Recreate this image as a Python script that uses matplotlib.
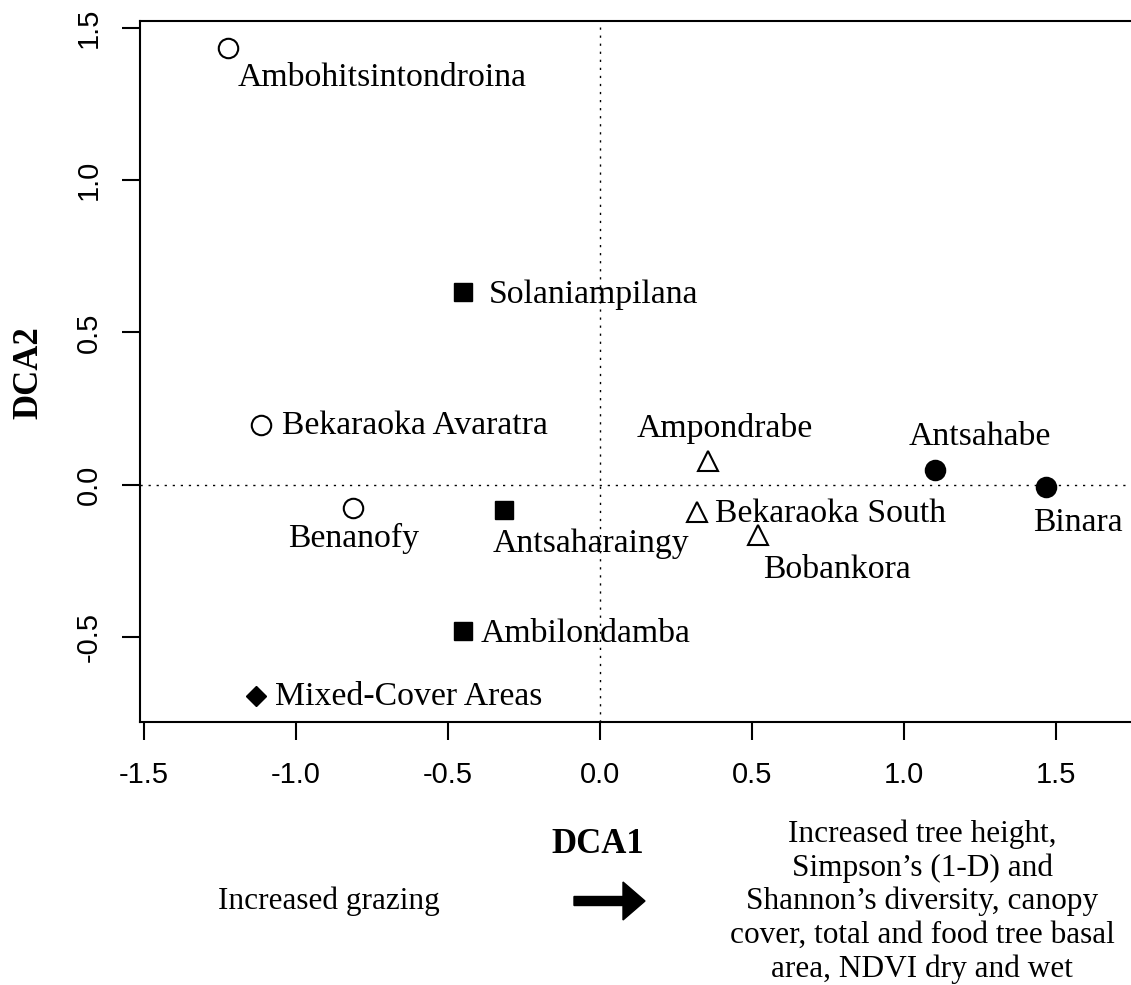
import matplotlib
matplotlib.use("Agg")
import matplotlib.pyplot as plt
from matplotlib.patches import FancyArrow

# DCA site scores
sites = ["Ambohitsintondroina", "Solaniampilana", "Bekaraoka Avaratra", "Benanofy",
         "Antsaharaingy", "Ambilondamba", "Mixed-Cover Areas", "Ampondrabe",
         "Bekaraoka South", "Bobankora", "Antsahabe", "Binara"]
dca1 = [-1.224, -0.451, -1.115, -0.813, -0.316, -0.450, -1.132, 0.355, 0.320, 0.521, 1.101, 1.468]
dca2 = [1.433, 0.632, 0.196, -0.076, -0.083, -0.481, -0.694, 0.076, -0.091, -0.166, 0.048, -0.009]
group = ["open", "square", "open", "open", "square", "square", "diamond",
         "triangle", "triangle", "triangle", "filled", "filled"]

xticks = [-1.5, -1.0, -0.5, 0.0, 0.5, 1.0, 1.5]
yticks = [-0.5, 0.0, 0.5, 1.0, 1.5]

right_note = ["Increased tree height,", "Simpson\u2019s (1-D) and",
              "Shannon\u2019s diversity, canopy", "cover, total and food tree basal",
              "area, NDVI dry and wet"]
left_note = "Increased grazing"

# marker look per group
styles = {
    "open": dict(marker="o", ms=14, mfc="white", mec="black", mew=1.5),
    "filled": dict(marker="o", ms=14, mfc="black", mec="black", mew=1.5),
    "square": dict(marker="s", ms=13, mfc="black", mec="black", mew=1.0),
    "diamond": dict(marker="D", ms=10.5, mfc="black", mec="black", mew=1.0),
    "triangle": dict(marker="^", ms=15, mfc="white", mec="black", mew=1.5),
}

# label placement: (dx px, dy px down, ha)
placement = {
    "Ambohitsintondroina": (10, 38, "left"),
    "Solaniampilana": (26, 11, "left"),
    "Bekaraoka Avaratra": (21, 9, "left"),
    "Benanofy": (1, 39, "center"),
    "Antsaharaingy": (-11, 42, "left"),
    "Ambilondamba": (18, 11, "left"),
    "Mixed-Cover Areas": (19, 9, "left"),
    "Ampondrabe": (17, -24, "center"),
    "Bekaraoka South": (18, 9.5, "left"),
    "Bobankora": (5, 43, "left"),
    "Antsahabe": (45, -25, "center"),
    "Binara": (-13, 44, "left"),
}

W, H = 1131, 985
fig = plt.figure(figsize=(W / 100, H / 100), dpi=100)
ax = fig.add_axes([140 / W, (H - 722) / H, (1142 - 140) / W, (722 - 21) / H])
ax.set_xlim(-1.512, 1.782)
ax.set_ylim(-0.780, 1.523)

ax.axhline(0, color="black", lw=1.0, dashes=(1.6, 4.2), zorder=1)
ax.axvline(0, color="black", lw=1.0, dashes=(1.6, 4.2), zorder=1)

serif = "Liberation Serif"
for name, x, y, g in zip(sites, dca1, dca2, group):
    ax.plot(x, y, linestyle="none", zorder=3, **styles[g])
    dx, dy, ha = placement[name]
    ax.annotate(name, (x, y), xytext=(dx, -dy), textcoords="offset pixels",
                ha=ha, va="baseline", family=serif, fontsize=24.3)

for s in ax.spines.values():
    s.set_linewidth(1.5)
ax.set_xticks(xticks)
ax.set_yticks(yticks)
ax.set_xticklabels(["%.1f" % v for v in xticks])
ax.set_yticklabels(["%.1f" % v for v in yticks], rotation=90, va="center")
ax.tick_params(length=13, width=1.5, labelsize=21)
ax.tick_params(axis="x", pad=15)
ax.tick_params(axis="y", pad=14)
for lab in ax.get_xticklabels() + ax.get_yticklabels():
    lab.set_family("Liberation Sans")

fig.text(29 / W, 1 - 373 / H, "DCA2", rotation=90, ha="center", va="center",
         family=serif, weight="bold", fontsize=25)
fig.text(598 / W, 1 - 853 / H, "DCA1", ha="center", va="baseline",
         family=serif, weight="bold", fontsize=25)

fig.text(329 / W, 1 - 909 / H, left_note, ha="center", va="baseline",
         family=serif, fontsize=22.5)
for i, line in enumerate(right_note):
    fig.text(922 / W, 1 - (842 + 33.7 * i) / H, line, ha="center", va="baseline",
             family=serif, fontsize=22.5)

# direction arrow between the two notes
fig.add_artist(FancyArrow(5.74, (H - 901) / 100, 0.71, 0, width=0.09,
                          head_width=0.38, head_length=0.22,
                          length_includes_head=True, color="black",
                          transform=fig.dpi_scale_trans))

fig.savefig("out.png", dpi=100)
